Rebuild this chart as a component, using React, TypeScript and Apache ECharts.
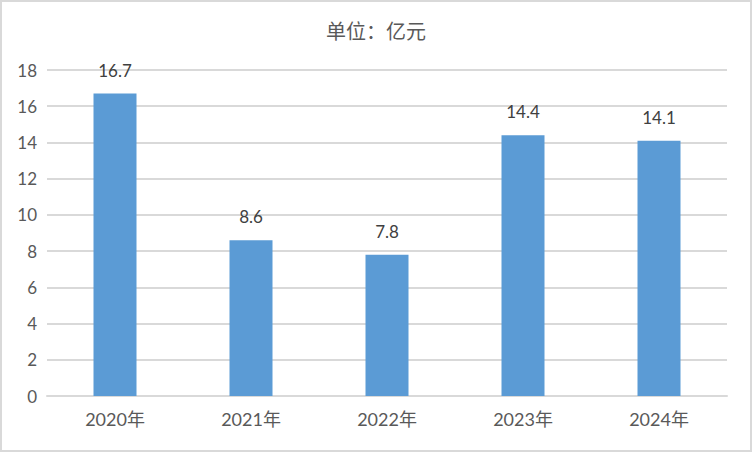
import React, { useEffect, useRef } from "react";
import * as echarts from "echarts";

const categories = ["2020年", "2021年", "2022年", "2023年", "2024年"];
const values = [16.7, 8.6, 7.8, 14.4, 14.1];
const yMin = 0;
const yMax = 18;
const yInterval = 2;
const titleText = "单位：亿元";

const FONT = "Lato, 'Noto Sans CJK SC', sans-serif";

export default function App() {
  const ref = useRef<HTMLDivElement>(null);
  useEffect(() => {
    document.body.style.margin = "0";
    const chart = echarts.init(ref.current!, undefined, { renderer: "svg" });
    chart.setOption({
      animation: false,
      backgroundColor: "#ffffff",
      title: {
        text: titleText,
        left: "center",
        top: 16,
        textStyle: { color: "#595959", fontSize: 20, fontWeight: "normal", fontFamily: FONT },
      },
      graphic: [
        {
          type: "rect",
          shape: { x: 1, y: 1, width: 750, height: 450 },
          style: { fill: "none", stroke: "#d9d9d9", lineWidth: 2 },
          silent: true,
        },
      ],
      grid: { left: 47, right: 25, top: 70, bottom: 56, containLabel: false },
      xAxis: {
        type: "category",
        data: categories,
        axisLine: { show: true, lineStyle: { color: "#d9d9d9", width: 2 } },
        axisTick: { show: false },
        axisLabel: { color: "#595959", fontSize: 18, margin: 14, fontFamily: FONT },
      },
      yAxis: {
        type: "value",
        min: yMin,
        max: yMax,
        interval: yInterval,
        axisLine: { show: false },
        axisTick: { show: false },
        axisLabel: { color: "#595959", fontSize: 17, margin: 10, fontFamily: FONT },
        splitLine: { lineStyle: { color: "#d9d9d9", width: 2 } },
      },
      series: [
        {
          type: "bar",
          data: values,
          barWidth: 43,
          itemStyle: { color: "#5b9bd5" },
          label: {
            show: true,
            position: "top",
            distance: 15,
            color: "#404040",
            fontSize: 17,
            fontFamily: FONT,
          },
        },
      ],
    });
    return () => chart.dispose();
  }, []);
  return <div ref={ref} style={{ width: 752, height: 452 }} />;
}
